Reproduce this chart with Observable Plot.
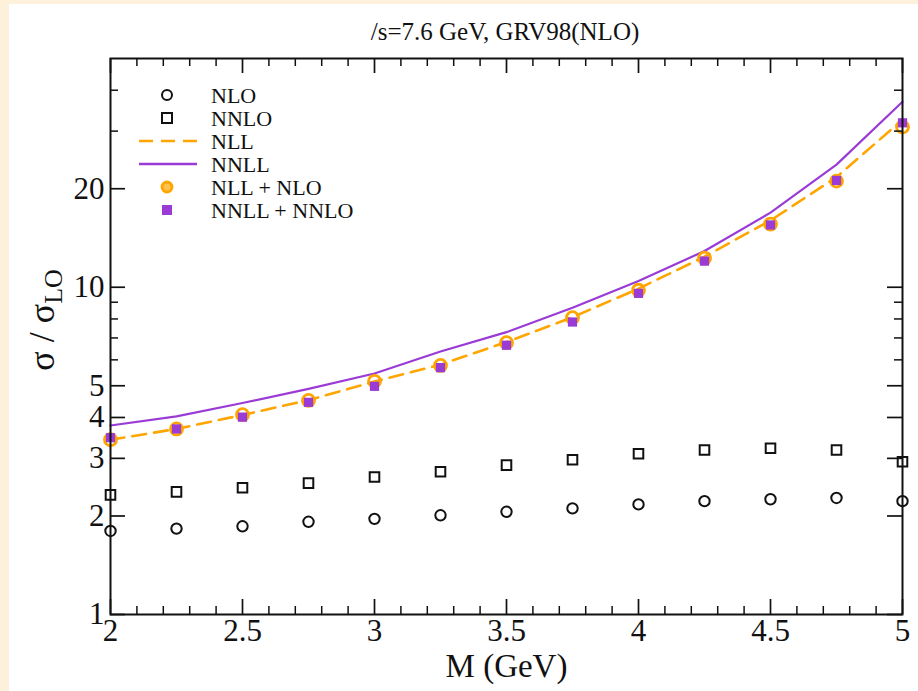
<!DOCTYPE html>
<html><head><meta charset="utf-8">
<script src="https://cdn.jsdelivr.net/npm/d3@7"></script>
<script src="https://cdn.jsdelivr.net/npm/@observablehq/plot@0.6"></script>
<style>
body{margin:0;background:#fdf1dc;}
#wrap{position:relative;width:918px;height:691px;overflow:hidden;font-family:"Liberation Serif",serif;}
#white{position:absolute;left:9px;top:4px;right:0;bottom:0;background:#fff;}
#chart{position:absolute;left:0;top:0;}
#title{position:absolute;left:0;width:1010px;top:18px;line-height:28px;font-size:25px;text-align:center;color:#111;}
#ylab{position:absolute;left:45px;top:320px;transform:translate(-50%,-50%) rotate(-90deg);white-space:nowrap;font-size:36px;color:#111;}
#ylab sub{font-size:0.72em;vertical-align:-0.3em;}
#legend{position:absolute;left:0;top:0;}
</style></head>
<body><div id="wrap"><div id="white"></div><div id="chart"></div>
<div id="title">/s=7.6 GeV, GRV98(NLO)</div>
<div id="ylab">σ / σ<sub>LO</sub></div>
<svg id="legend" width="918" height="691"></svg>
</div>
<script>
const M = [2, 2.25, 2.5, 2.75, 3, 3.25, 3.5, 3.75, 4, 4.25, 4.5, 4.75, 5];
const nlo = [1.80, 1.83, 1.86, 1.92, 1.96, 2.01, 2.06, 2.11, 2.17, 2.22, 2.25, 2.27, 2.22];
const nnlo = [2.32, 2.37, 2.44, 2.52, 2.63, 2.73, 2.86, 2.97, 3.10, 3.18, 3.22, 3.18, 2.93];
const nll = [3.42, 3.69, 4.07, 4.52, 5.15, 5.80, 6.80, 8.10, 9.90, 12.4, 16.0, 21.7, 32.5];
const nnll = [3.78, 4.03, 4.43, 4.89, 5.45, 6.36, 7.29, 8.66, 10.45, 12.9, 16.9, 23.7, 36.9];
const nllNlo = [3.42, 3.69, 4.08, 4.51, 5.16, 5.77, 6.77, 8.07, 9.79, 12.27, 15.6, 21.1, 30.9];
const nnllNnlo = [3.47, 3.69, 4.01, 4.45, 4.98, 5.68, 6.65, 7.83, 9.58, 12.02, 15.5, 21.2, 31.8];

const xMajor = [2, 2.5, 3, 3.5, 4, 4.5, 5];
const xMinor = [2.1,2.2,2.3,2.4,2.6,2.7,2.8,2.9,3.1,3.2,3.3,3.4,3.6,3.7,3.8,3.9,4.1,4.2,4.3,4.4,4.6,4.7,4.8,4.9];
const yMajor = [1, 2, 3, 4, 5, 10, 20];
const yMinor = [6, 7, 8, 9, 30, 40];
const xLabels = ["2", "2.5", "3", "3.5", "4", "4.5", "5"];
const yLabels = ["1", "2", "3", "4", "5", "10", "20"];

const legendLabels = ["NLO", "NNLO", "NLL", "NNLL", "NLL + NLO", "NNLL + NNLO"];

const ORANGE = "#ffa500", PURPLE = "#9a3bd6";
const W = 918, H = 691, mt = 58, mb = 77, ml = 110, mr = 16;
const ph = H - mt - mb, pw = W - ml - mr;
const majL = 15, minL = 8;

const rows = (ys) => M.map((m, i) => ({m, v: ys[i]}));

const chart = Plot.plot({
  width: W, height: H,
  marginTop: mt, marginBottom: mb, marginLeft: ml, marginRight: mr,
  style: {background: "transparent", fontFamily: "Liberation Serif, serif", color: "#111"},
  x: {domain: [2, 5]},
  y: {type: "log", domain: [1, 50]},
  marks: [
    Plot.axisX(xMajor, {anchor: "bottom", tickSize: 0, tickPadding: 4, fontSize: 31,
      tickFormat: d => xLabels[xMajor.indexOf(d)], label: null}),
    Plot.text(["M (GeV)"], {frameAnchor: "bottom", dy: 62, fontSize: 33, text: d => d, fill: "#111"}),
    Plot.axisY(yMajor, {anchor: "left", tickSize: 0, tickPadding: 6, fontSize: 31,
      tickFormat: d => yLabels[yMajor.indexOf(d)], label: null}),
    Plot.line(rows(nll), {x: "m", y: "v", stroke: ORANGE, strokeWidth: 2.6, strokeDasharray: "14,8"}),
    Plot.line(rows(nnll), {x: "m", y: "v", stroke: PURPLE, strokeWidth: 2.2}),
    Plot.dot(rows(nllNlo), {x: "m", y: "v", r: 6, stroke: ORANGE, strokeWidth: 2.8, fill: "none"}),
    Plot.dot(rows(nnllNnlo), {x: "m", y: "v", r: 5.2, symbol: "square", fill: PURPLE, stroke: "none"}),
    Plot.dot(rows(nlo), {x: "m", y: "v", r: 5.2, stroke: "#111", strokeWidth: 2, fill: "none"}),
    Plot.dot(rows(nnlo), {x: "m", y: "v", r: 5.4, symbol: "square", stroke: "#111", strokeWidth: 2, fill: "none"}),
    Plot.ruleX(xMajor, {x: d => d, insetTop: ph - majL, stroke: "#111", strokeWidth: 1.7}),
    Plot.ruleX(xMajor, {x: d => d, insetBottom: ph - majL, stroke: "#111", strokeWidth: 1.7}),
    Plot.ruleX(xMinor, {x: d => d, insetTop: ph - minL, stroke: "#111", strokeWidth: 1.5}),
    Plot.ruleX(xMinor, {x: d => d, insetBottom: ph - minL, stroke: "#111", strokeWidth: 1.5}),
    Plot.ruleY(yMajor, {y: d => d, insetRight: pw - majL, stroke: "#111", strokeWidth: 1.7}),
    Plot.ruleY(yMajor, {y: d => d, insetLeft: pw - majL, stroke: "#111", strokeWidth: 1.7}),
    Plot.ruleY(yMinor, {y: d => d, insetRight: pw - minL, stroke: "#111", strokeWidth: 1.5}),
    Plot.ruleY(yMinor, {y: d => d, insetLeft: pw - minL, stroke: "#111", strokeWidth: 1.5}),
    Plot.frame({stroke: "#111", strokeWidth: 2})
  ]
});
document.getElementById("chart").appendChild(chart);

// legend
const lg = d3.select("#legend");
const lx0 = 139, lx1 = 197, lsx = 167, ltx = 211, ly0 = 95, ldy = 23;
legendLabels.forEach((lab, i) => {
  const y = ly0 + i * ldy;
  if (i === 0) lg.append("circle").attr("cx", lsx).attr("cy", y).attr("r", 5).attr("fill", "none").attr("stroke", "#111").attr("stroke-width", 2);
  if (i === 1) lg.append("rect").attr("x", lsx - 5).attr("y", y - 5).attr("width", 10).attr("height", 10).attr("fill", "none").attr("stroke", "#111").attr("stroke-width", 2);
  if (i === 2) lg.append("line").attr("x1", lx0).attr("x2", lx1).attr("y1", y).attr("y2", y).attr("stroke", ORANGE).attr("stroke-width", 2.4).attr("stroke-dasharray", "14,8");
  if (i === 3) lg.append("line").attr("x1", lx0).attr("x2", lx1).attr("y1", y).attr("y2", y).attr("stroke", PURPLE).attr("stroke-width", 2.4);
  if (i === 4) lg.append("circle").attr("cx", lsx).attr("cy", y).attr("r", 5).attr("fill", "#ffc24d").attr("stroke", ORANGE).attr("stroke-width", 2.8);
  if (i === 5) lg.append("rect").attr("x", lsx - 5).attr("y", y - 5).attr("width", 10).attr("height", 10).attr("fill", PURPLE);
  lg.append("text").attr("x", ltx).attr("y", y).attr("dy", "0.35em").attr("font-size", 22)
    .attr("font-family", "Liberation Serif, serif").attr("fill", "#111").text(lab);
});
</script>
</body></html>
